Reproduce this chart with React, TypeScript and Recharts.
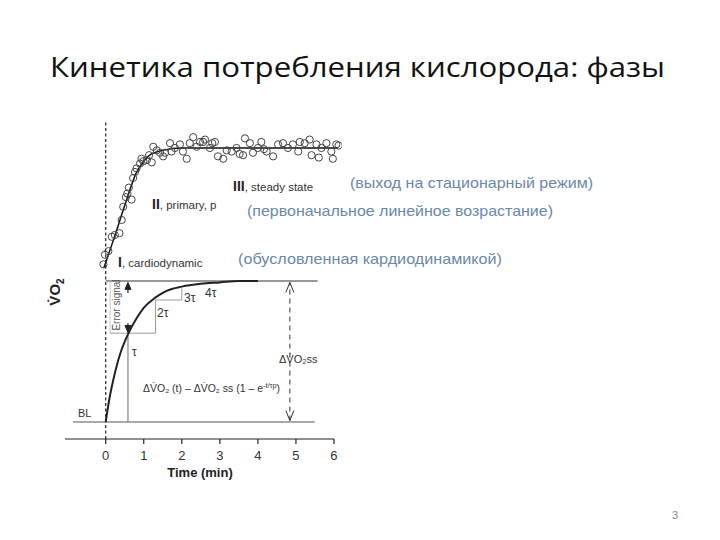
import React from 'react';
import { ComposedChart, Line, Scatter, XAxis, YAxis, ReferenceLine, ReferenceDot } from 'recharts';

// tick labels on the time axis (min)
const xTicks = [0, 1, 2, 3, 4, 5, 6];
const axisStart = -1.07;
const axisEnd = 6;

// breath-by-breath VO2 observations (upper panel, normalised to steady state)
const obsTime = [-0.06, -0.02, 0.07, 0.16, 0.24, 0.36, 0.42, 0.46, 0.53, 0.57, 0.61, 0.68, 0.72, 0.77, 0.81, 0.9, 0.94, 0.99, 1.08, 1.14, 1.21, 1.25, 1.34, 1.43, 1.51, 1.56, 1.69, 1.73, 1.82, 1.95, 2.03, 2.13, 2.21, 2.3, 2.39, 2.48, 2.56, 2.61, 2.74, 2.8, 2.87, 2.95, 3.09, 3.18, 3.31, 3.44, 3.52, 3.61, 3.66, 3.79, 3.87, 4.0, 4.09, 4.16, 4.23, 4.4, 4.53, 4.66, 4.79, 4.92, 5.06, 5.1, 5.23, 5.36, 5.41, 5.54, 5.6, 5.67, 5.8, 5.93, 5.97, 6.06, 6.12];
const obsVo2 = [0.03, 0.11, 0.14, 0.26, 0.275, 0.29, 0.4, 0.51, 0.59, 0.62, 0.67, 0.57, 0.75, 0.8, 0.83, 0.87, 0.91, 0.89, 0.9, 0.94, 0.88, 1.01, 0.98, 0.96, 0.93, 0.96, 1.04, 0.97, 1.0, 1.03, 0.97, 0.91, 1.04, 1.09, 1.01, 1.05, 1.05, 1.07, 1.0, 1.04, 1.05, 0.93, 0.91, 0.98, 0.97, 1.0, 0.95, 0.94, 1.08, 1.04, 0.96, 1.0, 1.05, 0.99, 0.97, 0.93, 1.03, 1.04, 1.0, 1.03, 0.97, 1.05, 1.04, 1.07, 0.94, 1.03, 0.92, 1.0, 1.04, 0.97, 0.91, 1.03, 1.02];

// fitted model through the observations (upper panel)
const fitTime = [-0.05, 0.2, 0.5, 0.8, 1.0, 1.2, 1.5, 2.0, 3.0, 4.0, 5.0, 6.1];
const fitVo2 = [0.0, 0.23, 0.52, 0.79, 0.89, 0.95, 0.98, 1.0, 1.0, 1.0, 1.0, 1.0];

// monoexponential response (lower panel, 0 = baseline, 1 = steady state)
const monoTime = [0, 0.1, 0.2, 0.3, 0.4, 0.5, 0.6, 0.8, 1.0, 1.2, 1.4, 1.6, 2.0, 2.5, 3.0, 3.5, 4.0];
const monoVo2 = [0, 0.17, 0.3, 0.41, 0.5, 0.57, 0.63, 0.73, 0.81, 0.86, 0.9, 0.93, 0.96, 0.98, 0.99, 1.0, 1.0];

// time-constant staircase (tau, 2tau, 3tau) and its response levels
const tauTimes = [0.585, 1.31, 2.0];
const tauLevels = [0.63, 0.865, 0.95];
const boxLeft = 0.115;
const ssArrowTime = 4.84;
const blStart = -0.86;
const blEnd = 5.49;
const ssEnd = 5.57;

const botDomain = [-0.1206, 2.1418];
const topDomain = [-1.425, 1.233];

const obsData = obsTime.map((t, i) => ({ t, v: obsVo2[i] }));
const fitData = fitTime.map((t, i) => ({ t, v: fitVo2[i] }));
const monoData = monoTime.map((t, i) => ({ t, v: monoVo2[i] }));

const gray = '#9a9a9a';
const ru = '#6a88a8';
const sans = '"Liberation Sans", Arial, sans-serif';

const openUp = (p: any) => (
  <path d={`M${p.cx - 4},${p.cy + 10} L${p.cx},${p.cy} L${p.cx + 4},${p.cy + 10}`} fill="none" stroke="#333" strokeWidth={1} />
);
const openDown = (p: any) => (
  <path d={`M${p.cx - 4},${p.cy - 10} L${p.cx},${p.cy} L${p.cx + 4},${p.cy - 10}`} fill="none" stroke="#333" strokeWidth={1} />
);
const solidUp = (p: any) => (
  <path d={`M${p.cx - 3},${p.cy + 7} L${p.cx},${p.cy} L${p.cx + 3},${p.cy + 7} Z`} fill="#222" stroke="#222" />
);
const solidDown = (p: any) => (
  <path d={`M${p.cx - 3},${p.cy - 7} L${p.cx},${p.cy} L${p.cx + 3},${p.cy - 7} Z`} fill="#222" stroke="#222" />
);
const circle = (p: any) => <circle cx={p.cx} cy={p.cy} r={3.6} fill="none" stroke="#444" strokeWidth={1} />;

export default function App() {
  return (
    <div style={{ position: 'absolute', left: 0, top: 0, width: 720, height: 540, background: '#fff' }}>
      <ComposedChart width={720} height={540} margin={{ top: 120, right: 378.4, bottom: 71, left: 65 }}>
        <XAxis
          dataKey="t"
          type="number"
          domain={[axisStart, 6.2]}
          allowDataOverflow
          ticks={xTicks}
          height={30}
          tickSize={5}
          tickMargin={7}
          axisLine={false}
          tickLine={{ stroke: '#222', strokeWidth: 1.2 }}
          tick={{ fill: '#333', fontSize: 13, fontFamily: sans }}
        />
        <YAxis yAxisId="top" hide type="number" domain={topDomain} allowDataOverflow />
        <YAxis yAxisId="bot" hide type="number" domain={botDomain} allowDataOverflow />

        {/* time axis line ending at 6 min */}
        <ReferenceLine yAxisId="bot" ifOverflow="visible" segment={[{ x: axisStart, y: botDomain[0] }, { x: axisEnd, y: botDomain[0] }]} stroke="#222" strokeWidth={1.2} />

        <ReferenceLine yAxisId="bot" x={0} stroke="#222" strokeWidth={1.2} strokeDasharray="3 2.5" />

        {/* lower panel reference lines */}
        <ReferenceLine yAxisId="bot" segment={[{ x: blStart, y: 0 }, { x: blEnd, y: 0 }]} stroke="#555" strokeWidth={1} />
        <ReferenceLine yAxisId="bot" segment={[{ x: 0, y: 1 }, { x: ssEnd, y: 1 }]} stroke="#333" strokeWidth={1.2} />
        <ReferenceLine yAxisId="bot" segment={[{ x: tauTimes[0], y: 0 }, { x: tauTimes[0], y: tauLevels[0] }]} stroke={gray} strokeWidth={1.5} />
        <ReferenceLine yAxisId="bot" segment={[{ x: boxLeft, y: tauLevels[0] }, { x: boxLeft, y: 1 }]} stroke="#c8c8c8" strokeWidth={1} />
        <ReferenceLine yAxisId="bot" segment={[{ x: boxLeft, y: tauLevels[0] }, { x: tauTimes[1], y: tauLevels[0] }]} stroke={gray} strokeWidth={1} />
        <ReferenceLine yAxisId="bot" segment={[{ x: tauTimes[1], y: tauLevels[0] }, { x: tauTimes[1], y: tauLevels[1] }]} stroke={gray} strokeWidth={1} />
        <ReferenceLine yAxisId="bot" segment={[{ x: tauTimes[1], y: tauLevels[1] }, { x: tauTimes[2], y: tauLevels[1] }]} stroke={gray} strokeWidth={1} />
        <ReferenceLine yAxisId="bot" segment={[{ x: tauTimes[2], y: tauLevels[1] }, { x: tauTimes[2], y: tauLevels[2] }]} stroke={gray} strokeWidth={1} />
        {/* error signal arrows */}
        <ReferenceLine yAxisId="bot" segment={[{ x: tauTimes[0], y: 0.915 }, { x: tauTimes[0], y: 0.98 }]} stroke="#222" strokeWidth={1.2} />
        <ReferenceLine yAxisId="bot" segment={[{ x: tauTimes[0], y: 0.7 }, { x: tauTimes[0], y: 0.65 }]} stroke="#222" strokeWidth={1.2} />
        <ReferenceDot yAxisId="bot" x={tauTimes[0]} y={0.99} shape={solidUp} />
        <ReferenceDot yAxisId="bot" x={tauTimes[0]} y={0.635} shape={solidDown} />
        {/* steady-state amplitude arrow */}
        <ReferenceLine yAxisId="bot" segment={[{ x: ssArrowTime, y: 0.01 }, { x: ssArrowTime, y: 0.99 }]} stroke="#333" strokeWidth={1} strokeDasharray="5 4" />
        <ReferenceDot yAxisId="bot" x={ssArrowTime} y={0.99} shape={openUp} />
        <ReferenceDot yAxisId="bot" x={ssArrowTime} y={0.01} shape={openDown} />

        <Line yAxisId="bot" data={monoData} dataKey="v" type="monotone" stroke="#222" strokeWidth={2} dot={false} isAnimationActive={false} />

        {/* upper panel */}
        <Scatter yAxisId="top" data={obsData} dataKey="v" shape={circle} isAnimationActive={false} />
        <Line yAxisId="top" data={fitData} dataKey="v" type="monotone" stroke="#111" strokeWidth={1.5} dot={false} isAnimationActive={false} />
      </ComposedChart>

      <svg width={720} height={540} style={{ position: 'absolute', left: 0, top: 0, pointerEvents: 'none' }}>
        <text x={50} y={77} fontFamily='"Open Sans", "Noto Sans", sans-serif' fontSize={28} fill="#111" textLength={615} lengthAdjust="spacingAndGlyphs">
          Кинетика потребления кислорода: фазы
        </text>

        <g fontFamily={sans} fill="#333">
          <text x={233} y={191} fontSize={11.5}>
            <tspan fontSize={14} fontWeight="bold" fill="#222">III</tspan>, steady state
          </text>
          <text x={152} y={209} fontSize={11.5}>
            <tspan fontSize={14} fontWeight="bold" fill="#222">II</tspan>, primary, p
          </text>
          <text x={118} y={267} fontSize={11.5}>
            <tspan fontSize={14} fontWeight="bold" fill="#222">I</tspan>, cardiodynamic
          </text>
        </g>

        <g fontFamily={sans} fill={ru} fontSize={15}>
          <text x={350} y={188} textLength={243} lengthAdjust="spacingAndGlyphs">(выход на стационарный режим)</text>
          <text x={247} y={216} textLength={306} lengthAdjust="spacingAndGlyphs">(первоначальное линейное возрастание)</text>
          <text x={238} y={264} textLength={264} lengthAdjust="spacingAndGlyphs">(обусловленная кардиодинамикой)</text>
        </g>

        <text x={0} y={0} transform="translate(60,292) rotate(-90)" textAnchor="middle" fontFamily={sans} fontWeight="bold" fontSize={15} fill="#222">
          V̇O<tspan fontSize={10} dy={4}>2</tspan>
        </text>

        <g fontFamily={sans} fill="#333">
          <text x={0} y={0} transform="translate(120,305) rotate(-90)" textAnchor="middle" fontSize={10} fill="#555">Error signal</text>
          <text x={132} y={356} fontSize={12}>τ</text>
          <text x={157} y={317} fontSize={12}>2τ</text>
          <text x={184} y={302} fontSize={12}>3τ</text>
          <text x={205} y={297} fontSize={12}>4τ</text>
          <text x={78} y={417} fontSize={11}>BL</text>
          <text x={143} y={392} fontSize={10} textLength={137} lengthAdjust="spacingAndGlyphs">
            ΔV̇O₂ (t) – ΔV̇O₂ ss (1 – e<tspan fontSize={7} dy={-4}>-t/τp</tspan><tspan dy={4}>)</tspan>
          </text>
          <text x={279} y={363} fontSize={11}>ΔV̇O₂ss</text>
          <text x={200} y={477} textAnchor="middle" fontSize={13} fontWeight="bold" fill="#222">Time (min)</text>
        </g>

        <text x={672} y={519} fontFamily={sans} fontSize={11} fill="#888">3</text>
      </svg>
    </div>
  );
}
